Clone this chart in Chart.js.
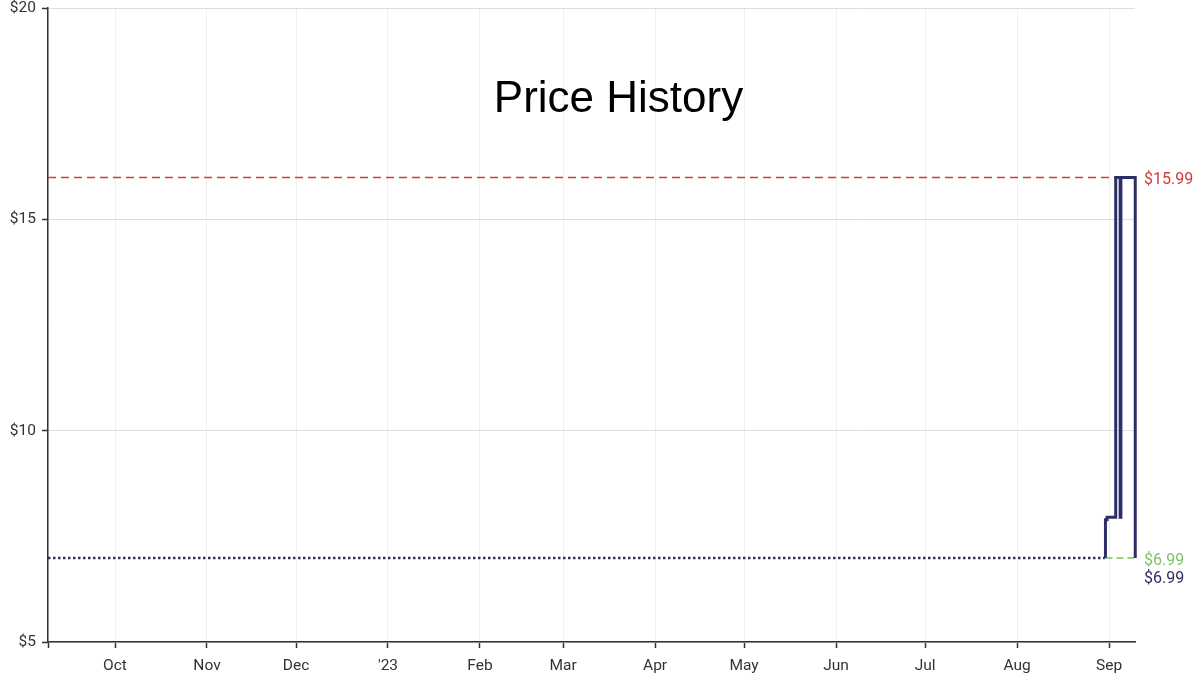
<!DOCTYPE html>
<html>
<head>
<meta charset="utf-8">
<script src="https://cdn.jsdelivr.net/npm/chart.js@4/dist/chart.umd.min.js"></script>
<style>
html,body{margin:0;padding:0;background:#fff;}
#wrap{width:1200px;height:681px;position:relative;}
</style>
</head>
<body>
<div id="wrap"><canvas id="c" width="1200" height="681"></canvas></div>
<script>
// ---- data ----
const rangeStart = '2022-09-08T10:00:00Z';
const rangeEnd   = '2023-09-09T18:00:00Z';

const monthTickDates  = ['2022-10-01','2022-11-01','2022-12-01','2023-01-01','2023-02-01','2023-03-01','2023-04-01','2023-05-01','2023-06-01','2023-07-01','2023-08-01','2023-09-01'];
const monthTickLabels = ['Oct','Nov','Dec',"'23",'Feb','Mar','Apr','May','Jun','Jul','Aug','Sep'];

const yTickValues = [5, 10, 15, 20];

// extrapolated (dotted) price before tracking
const dottedDates  = ['2022-09-08T10:00:00Z', '2023-08-30T14:00:00Z'];
const dottedPrices = [6.99, 6.99];

// tracked price history (stepped)
const priceDates  = ['2023-08-30T19:00:00Z','2023-08-30T19:00:00Z','2023-08-31T08:00:00Z','2023-09-03T06:00:00Z','2023-09-04T18:00:00Z','2023-09-05T00:00:00Z','2023-09-09T20:00:00Z'];
const priceValues = [6.99, 7.89, 7.95, 15.99, 7.95, 15.99, 6.99];

const highestPrice = 15.99;
const lowestPrice  = 6.99;
const lowestFrom   = '2023-08-30T19:00:00Z';
const currentPrice = 6.99;

const titleText = 'Price History';

// ---- helpers ----
const toDay = s => Date.parse(s.length === 10 ? s + 'T00:00:00Z' : s) / 86400000;
const xMin = toDay(rangeStart), xMax = toDay(rangeEnd);
const monthTickValues = monthTickDates.map(toDay);

const navy = '#2e2e66';
const red = '#d23c3a';
const green = '#7cc46a';

const datasets = [
  {
    data: dottedDates.map((d,i)=>({x:toDay(d), y:dottedPrices[i]})),
    borderColor: navy, borderWidth: 2.5, borderDash:[2.5,2.5], pointRadius:0, order:1
  },
  {
    data: [{x:xMin,y:highestPrice},{x:xMax,y:highestPrice}],
    borderColor: red, borderWidth: 1.4, borderDash:[8,5], pointRadius:0, order:3
  },
  {
    data: [{x:toDay(lowestFrom),y:lowestPrice},{x:xMax,y:lowestPrice}],
    borderColor: green, borderWidth: 1.5, borderDash:[7,4], pointRadius:0, order:3
  },
  {
    data: priceDates.map((d,i)=>({x:toDay(d), y:priceValues[i]})),
    borderColor: navy, borderWidth: 3, stepped: 'before', pointRadius:0, order:0, clip:false
  }
];

const sideLabels = [
  {text:'$' + highestPrice.toFixed(2), value: highestPrice, color: red, dy: 3},
  {text:'$' + lowestPrice.toFixed(2), value: lowestPrice, color: green, dy: 3},
  {text:'$' + currentPrice.toFixed(2), value: currentPrice, color: navy, dy: 21}
];

const overlay = {
  id:'overlay',
  afterDraw(chart){
    const ctx = chart.ctx, y = chart.scales.y, a = chart.chartArea;
    ctx.save();
    ctx.font = '16px Roboto';
    ctx.textAlign = 'left';
    ctx.textBaseline = 'middle';
    sideLabels.forEach(l=>{
      ctx.fillStyle = l.color;
      ctx.fillText(l.text, a.right + 9, y.getPixelForValue(l.value) + l.dy);
    });
    ctx.font = '44px "Liberation Sans", Arial, sans-serif';
    ctx.fillStyle = '#000';
    ctx.textAlign = 'center';
    ctx.textBaseline = 'alphabetic';
    ctx.fillText(titleText, (a.left + a.right)/2 + 27, a.top + 104);
    ctx.restore();
  }
};

new Chart(document.getElementById('c'), {
  type:'line',
  data:{datasets},
  plugins:[overlay],
  options:{
    responsive:false,
    animation:false,
    parsing:false,
    normalized:true,
    layout:{padding:{top:8,right:65,bottom:0,left:0}},
    plugins:{legend:{display:false},tooltip:{enabled:false},title:{display:false}},
    scales:{
      x:{
        type:'linear', min:xMin, max:xMax,
        afterBuildTicks(s){ s.ticks = [{value:xMin}].concat(monthTickValues.map(v=>({value:v}))); },
        afterFit(s){ s.height = 39; s.paddingLeft = 0; s.paddingRight = 0; },
        ticks:{
          autoSkip:false, maxRotation:0, padding:9, color:'#333',
          font:{family:'Roboto', size:15.5},
          callback(v){ const i = monthTickValues.indexOf(v); return i >= 0 ? monthTickLabels[i] : ''; }
        },
        grid:{color:'#efefef', lineWidth:1, tickColor:'#333', tickLength:6, tickWidth:1.5},
        border:{color:'#333', width:1.5}
      },
      y:{
        min:5, max:20,
        afterBuildTicks(s){ s.ticks = yTickValues.map(v=>({value:v})); },
        afterFit(s){ s.width = 48; s.paddingTop = 0; s.paddingBottom = 0; },
        ticks:{
          padding:6, color:'#333', font:{family:'Roboto', size:15.5},
          callback(v){ return '$' + v; }
        },
        grid:{color:'#dedede', lineWidth:1, tickColor:'#333', tickLength:6, tickWidth:1.5},
        border:{color:'#333', width:1.5}
      }
    }
  }
});
</script>
</body>
</html>
